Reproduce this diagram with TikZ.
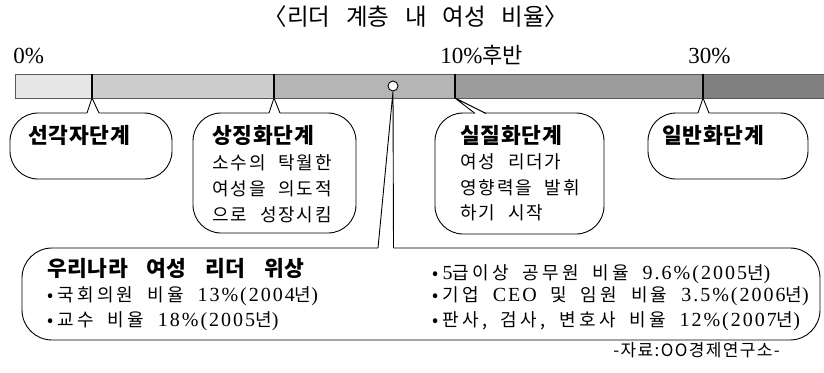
\documentclass[tikz,border=0pt]{standalone}
\usepackage{fontspec}
\usetikzlibrary{calc}
\setmainfont{Liberation Serif}
\newfontfamily\kr{Noto Sans CJK KR}
\newfontfamily\krT[WordSpace=3]{Noto Sans CJK KR}
\newfontfamily\krH[LetterSpace=3]{Noto Sans CJK KR}
\newfontfamily\krB[LetterSpace=2,WordSpace=3.5]{Noto Sans CJK KR}
\newfontfamily\krP[LetterSpace=10,WordSpace=2.2]{Noto Sans CJK KR}
\newfontfamily\krS[LetterSpace=18,WordSpace=1.9]{Noto Sans CJK KR}
\newfontfamily\krR[LetterSpace=8]{Noto Sans CJK KR}
\newfontfamily\latS[LetterSpace=10]{Liberation Serif}
\newcommand\lat[1]{{\latS\fontsize{20}{20}\selectfont #1}}
\newcommand\bul{•\hspace{4pt}}
\definecolor{segA}{HTML}{E6E6E6}
\definecolor{segB}{HTML}{CDCDCD}
\definecolor{segC}{HTML}{B5B5B5}
\definecolor{segD}{HTML}{9C9C9C}
\definecolor{segE}{HTML}{808080}
\begin{document}
\begin{tikzpicture}[x=1pt,y=-1pt,line width=0.9pt,
  bub/.style={draw=black, fill=white, rounded corners=28pt, line width=0.9pt, inner sep=0pt},
  ttl/.style={font=\krT\fontsize{23.5}{28}\selectfont, inner sep=0pt, anchor=base},
  pct/.style={font=\fontsize{23}{24}\selectfont, inner sep=0pt, anchor=base west},
  head/.style={font=\krH\bfseries\fontsize{21.5}{24}\selectfont, inner sep=0pt, anchor=base west},
  body/.style={font=\krP\fontsize{18}{20}\selectfont, inner sep=0pt, anchor=base west},
  bighead/.style={font=\krB\bfseries\fontsize{21.5}{24}\selectfont, inner sep=0pt, anchor=base west},
  item/.style={font=\krS\fontsize{18}{20}\selectfont, inner sep=0pt, anchor=base west},
  src/.style={font=\krR\fontsize{17}{20}\selectfont, inner sep=0pt, anchor=base west},
  divider/.style={line width=2.6pt, black},
  notchline/.style={line width=0.9pt, black, line join=miter}
]
\useasboundingbox (0,0) rectangle (824,372);

% title
\node[ttl] (title) at (416,25) {〈리더 계층 내 여성 비율〉};

% percent labels
\node[pct] (p0) at (13,63) {0\%};
\node[pct] (p10) at (440,63) {10\%{\kr\fontsize{22}{24}\selectfont 후반}};
\node[pct] (p30) at (688,63) {30\%};

% bar
\fill[segA] (15,74) rectangle (92,98);
\fill[segB] (92,74) rectangle (274,98);
\fill[segC] (274,74) rectangle (455,98);
\fill[segD] (455,74) rectangle (703,98);
\fill[segE] (703,74) rectangle (824,98);
\draw[gray!70!black, line width=0.8pt] (824,74) -- (15,74) -- (15,98) -- (824,98);
\coordinate (d1) at (92,98);
\coordinate (d2) at (274,98);
\coordinate (d3) at (455,98);
\coordinate (d4) at (703,98);
\draw[divider] (92,73.5) -- (d1);
\draw[divider] (274,73.5) -- (d2);
\draw[divider] (455,73.5) -- (d3);
\draw[divider] (703,73.5) -- (d4);

% bubbles
\node[bub, minimum width=162pt, minimum height=66pt] (b1) at (91,146) {};
\node[bub, minimum width=163pt, minimum height=120pt] (b2) at (274.5,173) {};
\node[bub, minimum width=169pt, minimum height=121pt] (b3) at (519.5,173.5) {};
\node[bub, minimum width=160pt, minimum height=66pt] (b4) at (728,146) {};
\node[bub, rounded corners=30pt, minimum width=798pt, minimum height=92pt] (big) at (421,294) {};

% notches
\newcommand\notch[3]{%
  \fill[white] ($(#1)+(0,0.8)$) -- (#2) -- ($(#3)+(0,0.8)$) -- cycle;
  \draw[notchline] (#1) -- (#2) -- (#3);}
\coordinate (n1a) at (87,113); \coordinate (n1b) at (99,113);
\coordinate (n2a) at (269,113); \coordinate (n2b) at (280,113);
\coordinate (n3a) at (475,113.5); \coordinate (n3b) at (486,113.5);
\coordinate (n4a) at (698,113); \coordinate (n4b) at (709,113);
\notch{n1a}{d1}{n1b}
\notch{n2a}{d2}{n2b}
\notch{n3a}{d3}{n3b}
\notch{n4a}{d4}{n4b}

% circle marker and wedge to big box
\node[circle, draw=black, fill=white, line width=0.9pt, minimum size=10pt, inner sep=0pt] (mk) at (393,86) {};
\coordinate (wa) at (378,248);
\coordinate (wb) at (393.5,248);
\fill[white] ($(wa)+(0,0.8)$) -- (mk.south) -- ($(wb)+(0,0.8)$) -- cycle;
\draw[notchline] (wa) -- (mk.south) -- (wb);

% bubble texts
\node[head] (h1) at (28,143) {선각자단계};
\node[head] (h2) at (212,143) {상징화단계};
\node[body] (c21) at (212,169) {소수의 탁월한};
\node[body] (c22) at (212,195) {여성을 의도적};
\node[body] (c23) at (212,221) {으로 성장시킴};
\node[head] (h3) at (460,143) {실질화단계};
\node[body] (c31) at (460,168) {여성 리더가};
\node[body] (c32) at (460,194) {영향력을 발휘};
\node[body] (c33) at (460,219) {하기 시작};
\node[head] (h4) at (662,143) {일반화단계};

% big box texts
\node[bighead] (bh) at (47,276) {우리나라 여성 리더 위상};
\node[item] (i1) at (47,301) {\bul 국회의원 비율 \lat{13\%(2004}년\lat{)}};
\node[item] (i2) at (47,326) {\bul 교수 비율 \lat{18\%(2005}년\lat{)}};
\node[item] (i3) at (432,279) {\bul \lat{5}급이상 공무원 비율 \lat{9.6\%(2005}년\lat{)}};
\node[item] (i4) at (432,301) {\bul 기업 \lat{CEO} 및 임원 비율 \lat{3.5\%(2006}년\lat{)}};
\node[item] (i5) at (432,326) {\bul 판사, 검사, 변호사 비율 \lat{12\%(2007}년\lat{)}};

% source
\node[src] (source) at (613,356) {-자료:OO경제연구소-};
\end{tikzpicture}
\end{document}
